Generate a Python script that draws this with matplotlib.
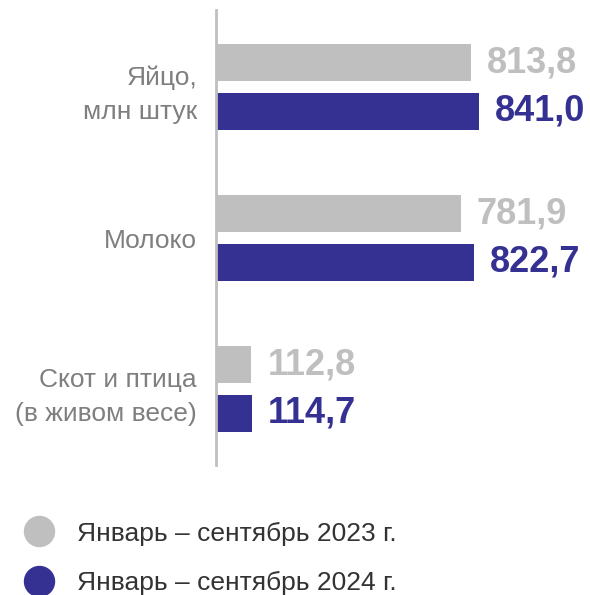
import matplotlib
matplotlib.use("Agg")
import matplotlib.pyplot as plt
from matplotlib.lines import Line2D
import numpy as np

plt.rcParams['font.family'] = ['Liberation Sans', 'DejaVu Sans']

categories = ['Яйцо,\nмлн штук', 'Молоко', 'Скот и птица\n(в живом весе)']
values_2023 = [813.8, 781.9, 112.8]
values_2024 = [841.0, 822.7, 114.7]
labels_2023 = ['813,8', '781,9', '112,8']
labels_2024 = ['841,0', '822,7', '114,7']
series_names = ['Январь – сентябрь 2023 г.', 'Январь – сентябрь 2024 г.']

gray = '#bfbfbf'
navy = '#353193'

fig = plt.figure(figsize=(5.9, 5.95), dpi=100)
ax = fig.add_axes([216 / 590, 1 - 465 / 595, 1 - 216 / 590, 455 / 595])

y = np.arange(len(categories))
off = 0.161
h = 0.242
ax.barh(y - off, values_2023, height=h, color=gray)
ax.barh(y + off, values_2024, height=h, color=navy)

for yi, v, s in zip(y, values_2023, labels_2023):
    ax.annotate(s, (v, yi - off), xytext=(11.5, 0), textcoords='offset points',
                va='center', ha='left', fontsize=26, fontweight='bold', color=gray)
for yi, v, s in zip(y, values_2024, labels_2024):
    ax.annotate(s, (v, yi + off), xytext=(11.5, 0), textcoords='offset points',
                va='center', ha='left', fontsize=26, fontweight='bold', color=navy)

ax.set_xlim(0, 841.0 * (590 - 216) / 263.3)
ax.set_ylim(2.503, -0.51)
ax.set_yticks(y)
ax.set_yticklabels(categories, fontsize=19, color='#7f7f7f', linespacing=1.56)
ax.tick_params(axis='y', length=0, pad=13.7)
ax.set_xticks([])
for side in ['top', 'right', 'bottom']:
    ax.spines[side].set_visible(False)
ax.spines['left'].set_color(gray)
ax.spines['left'].set_linewidth(2)

handles = [Line2D([], [], marker='o', ls='', markersize=21.6, color=c) for c in (gray, navy)]
fig.legend(handles, series_names, loc='upper left', bbox_to_anchor=(0.0125, 0.141),
           frameon=False, fontsize=19, labelcolor='#333333', handlelength=1.6,
           handletextpad=0.65, labelspacing=0.95, borderaxespad=0)

fig.savefig('out.png', dpi=100)
